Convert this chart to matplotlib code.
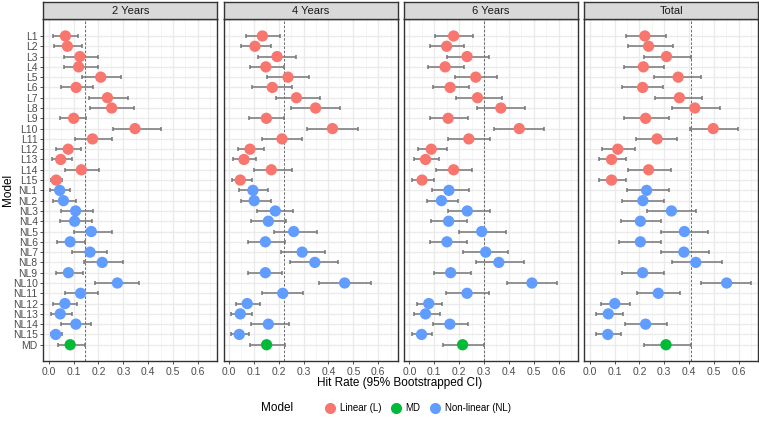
import matplotlib
matplotlib.use("Agg")
import matplotlib.pyplot as plt
from matplotlib.lines import Line2D
import numpy as np

plt.rcParams['font.family'] = ['Liberation Sans', 'DejaVu Sans']

models = [f"L{i}" for i in range(1, 16)] + [f"NL{i}" for i in range(1, 16)] + ["MD"]
groups = ["Linear (L)"] * 15 + ["Non-linear (NL)"] * 15 + ["MD"]
panels = ["2 Years", "4 Years", "6 Years", "Total"]
ref_lines = [0.144, 0.222, 0.300, 0.407]

est_2y = [0.067, 0.075, 0.125, 0.120, 0.209, 0.110, 0.236, 0.253, 0.100, 0.347, 0.176, 0.078, 0.048, 0.131, 0.030,
          0.044, 0.059, 0.108, 0.104, 0.171, 0.086, 0.166, 0.215, 0.079, 0.276, 0.128, 0.065, 0.046, 0.109, 0.028,
          0.086]
lo_2y = [0.016, 0.023, 0.062, 0.061, 0.132, 0.050, 0.163, 0.164, 0.047, 0.258, 0.105, 0.031, 0.013, 0.066, 0.009,
         0.005, 0.019, 0.048, 0.044, 0.101, 0.035, 0.093, 0.140, 0.030, 0.184, 0.065, 0.019, 0.009, 0.050, 0.008,
         0.039]
hi_2y = [0.117, 0.133, 0.199, 0.198, 0.292, 0.178, 0.320, 0.343, 0.151, 0.452, 0.254, 0.128, 0.093, 0.203, 0.054,
         0.087, 0.110, 0.176, 0.174, 0.253, 0.144, 0.234, 0.300, 0.136, 0.362, 0.197, 0.114, 0.092, 0.171, 0.054,
         0.145]

est_4y = [0.134, 0.104, 0.193, 0.148, 0.237, 0.174, 0.271, 0.348, 0.150, 0.416, 0.213, 0.084, 0.060, 0.170, 0.045,
          0.096, 0.101, 0.186, 0.158, 0.260, 0.146, 0.294, 0.345, 0.146, 0.465, 0.216, 0.073, 0.045, 0.158, 0.041,
          0.151]
lo_4y = [0.068, 0.046, 0.117, 0.084, 0.152, 0.092, 0.189, 0.249, 0.081, 0.314, 0.131, 0.035, 0.015, 0.100, 0.011,
         0.041, 0.049, 0.111, 0.087, 0.179, 0.076, 0.210, 0.247, 0.076, 0.361, 0.134, 0.027, 0.007, 0.089, 0.008,
         0.085]
hi_4y = [0.204, 0.167, 0.270, 0.222, 0.321, 0.253, 0.365, 0.446, 0.222, 0.520, 0.292, 0.142, 0.107, 0.252, 0.092,
         0.156, 0.170, 0.259, 0.228, 0.353, 0.227, 0.387, 0.437, 0.213, 0.571, 0.298, 0.123, 0.092, 0.240, 0.082,
         0.225]

est_6y = [0.178, 0.150, 0.232, 0.144, 0.267, 0.164, 0.274, 0.368, 0.156, 0.442, 0.239, 0.088, 0.065, 0.178, 0.051,
          0.159, 0.129, 0.233, 0.158, 0.291, 0.151, 0.307, 0.360, 0.166, 0.493, 0.232, 0.078, 0.065, 0.163, 0.049,
          0.214]
lo_6y = [0.105, 0.081, 0.151, 0.075, 0.182, 0.096, 0.186, 0.271, 0.085, 0.342, 0.154, 0.034, 0.020, 0.106, 0.011,
         0.092, 0.069, 0.154, 0.089, 0.199, 0.081, 0.216, 0.268, 0.098, 0.392, 0.147, 0.032, 0.020, 0.094, 0.012,
         0.135]
hi_6y = [0.257, 0.220, 0.319, 0.221, 0.353, 0.240, 0.372, 0.464, 0.237, 0.540, 0.326, 0.150, 0.120, 0.253, 0.100,
         0.240, 0.195, 0.326, 0.233, 0.388, 0.230, 0.398, 0.460, 0.248, 0.594, 0.322, 0.132, 0.124, 0.237, 0.092,
         0.301]

est_tot = [0.222, 0.237, 0.309, 0.216, 0.356, 0.213, 0.361, 0.423, 0.225, 0.497, 0.271, 0.113, 0.088, 0.237, 0.088,
           0.229, 0.214, 0.329, 0.204, 0.381, 0.204, 0.379, 0.427, 0.213, 0.551, 0.276, 0.101, 0.075, 0.225, 0.073,
           0.307]
lo_tot = [0.147, 0.154, 0.220, 0.140, 0.259, 0.131, 0.261, 0.330, 0.140, 0.403, 0.186, 0.049, 0.038, 0.155, 0.036,
          0.152, 0.131, 0.232, 0.127, 0.286, 0.119, 0.286, 0.330, 0.131, 0.449, 0.190, 0.047, 0.027, 0.144, 0.024,
          0.217]
hi_tot = [0.307, 0.334, 0.408, 0.299, 0.449, 0.295, 0.453, 0.526, 0.319, 0.598, 0.353, 0.181, 0.148, 0.327, 0.146,
          0.318, 0.299, 0.429, 0.288, 0.477, 0.286, 0.481, 0.531, 0.299, 0.650, 0.363, 0.162, 0.136, 0.313, 0.125,
          0.407]

data = [(est_2y, lo_2y, hi_2y), (est_4y, lo_4y, hi_4y), (est_6y, lo_6y, hi_6y), (est_tot, lo_tot, hi_tot)]
palette = {"Linear (L)": "#F8766D", "MD": "#00BA38", "Non-linear (NL)": "#619CFF"}
legend_order = ["Linear (L)", "MD", "Non-linear (NL)"]

W, H = 759, 423
fig = plt.figure(figsize=(W / 100, H / 100), dpi=100)

left0, pw, step = 43.3, 174.0, 180.3
top, bottom, strip_h = 19.0, 360.7, 17.0
ypos = np.arange(len(models))
xticks = np.arange(0, 0.61, 0.1)

for k, (name, (est, lo, hi)) in enumerate(zip(panels, data)):
    l = left0 + k * step
    ax = fig.add_axes([l / W, 1 - bottom / H, pw / W, (bottom - top) / H])
    ax.set_facecolor("white")
    ax.set_xlim(-0.022, 0.678)
    ax.set_ylim(len(models) - 1 + 1.55, -1.65)
    ax.set_xticks(xticks)
    ax.set_xticks(np.arange(0.05, 0.66, 0.1), minor=True)
    ax.set_xticklabels([f"{v:.1f}" for v in xticks])
    ax.set_yticks(ypos)
    ax.grid(True, which="major", color="#EBEBEB", linewidth=1.0, zorder=0)
    ax.grid(True, which="minor", axis="x", color="#F4F4F4", linewidth=0.6, zorder=0)
    ax.set_axisbelow(True)
    ax.tick_params(axis="x", which="minor", length=0)
    ax.tick_params(axis="x", which="major", length=2.5, width=0.6, color="#333333",
                   labelsize=7.5, labelcolor="#4D4D4D", pad=2)
    if k == 0:
        ax.set_yticklabels(models)
        ax.tick_params(axis="y", length=2.5, width=0.6, color="#333333",
                       labelsize=7.5, labelcolor="#4D4D4D", pad=1.5)
    else:
        ax.set_yticklabels([])
        ax.tick_params(axis="y", length=0)
    for sp in ax.spines.values():
        sp.set_color("#333333")
        sp.set_linewidth(1.0)
    ax.axvline(ref_lines[k], color="#555555", linestyle=(0, (3, 2)), linewidth=0.6, zorder=1)
    est = np.array(est); lo = np.array(lo); hi = np.array(hi)
    ax.errorbar(est, ypos, xerr=[est - lo, hi - est], fmt="none", ecolor="#777777",
                elinewidth=1.1, capsize=1.6, capthick=1.1, zorder=2)
    cols = [palette[g] for g in groups]
    ax.scatter(est, ypos, s=66, c=cols, edgecolors="none", zorder=3)

    sax = fig.add_axes([l / W, 1 - top / H, pw / W, strip_h / H])
    sax.set_facecolor("#D9D9D9")
    sax.set_xticks([]); sax.set_yticks([])
    for sp in sax.spines.values():
        sp.set_color("#333333")
        sp.set_linewidth(1.0)
    sax.text(0.5, 0.5, name, ha="center", va="center", fontsize=8, color="#1A1A1A",
             transform=sax.transAxes)

fig.text(400 / W, 1 - 383 / H, "Hit Rate (95% Bootstrapped CI)", ha="center", va="center",
         fontsize=8.5, color="black")
fig.text(8 / W, 1 - 190 / H, "Model", ha="center", va="center", rotation=90,
         fontsize=8.5, color="black")

handles = [Line2D([], [], marker="o", linestyle="none", markersize=8, markerfacecolor=palette[g],
                  markeredgecolor="none", label=g) for g in legend_order]
fig.text(277 / W, 1 - 408 / H, "Model", ha="center", va="center", fontsize=8.5)
fig.legend(handles=handles, loc="center", bbox_to_anchor=(418 / W, 1 - 408 / H), ncol=3,
           frameon=False, fontsize=7, handletextpad=0.5, columnspacing=1.0, handlelength=1.0)

fig.savefig("out.png", dpi=100)
